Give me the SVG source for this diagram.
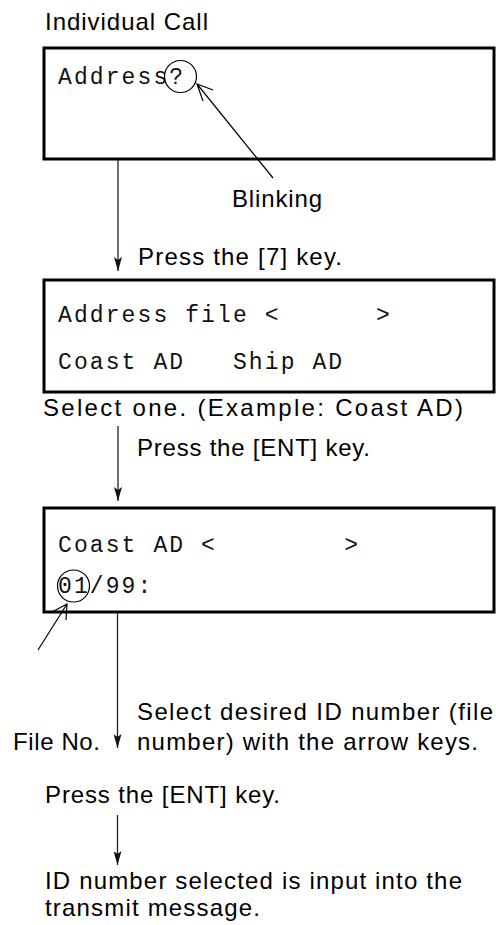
<svg xmlns="http://www.w3.org/2000/svg" width="496" height="925" viewBox="0 0 496 925">
<style>
.box{fill:#fff;stroke:#000;stroke-width:3}
.mono{font-family:"Liberation Mono",monospace;font-size:23px;letter-spacing:2.1px;fill:#111;white-space:pre}
.sans{font-family:"Liberation Sans",Arial,sans-serif;font-size:24px;fill:#000}
.con{stroke:#222;stroke-width:1.3;fill:none}
.thin{stroke:#000;stroke-width:1.2;fill:none}
</style>
<defs>
<marker id="ah" markerUnits="userSpaceOnUse" markerWidth="14" markerHeight="8" viewBox="0 0 14 8" refX="14" refY="4" orient="auto">
<path d="M0,0 L14,4 L0,8 L3,4 Z" fill="#111"/>
</marker>
</defs>
<rect width="496" height="925" fill="#fff"/>
<text class="sans" x="45" y="30" textLength="163">Individual Call</text>
<g id="box1">
<rect class="box" x="44" y="48" width="450" height="111"/>
<text class="mono" x="58" y="84" xml:space="preserve">Address?</text>
<circle class="thin" cx="180.5" cy="76.5" r="16"/>
</g>
<g id="blinking">
<text class="sans" x="232" y="207" textLength="90">Blinking</text>
</g>
<g id="box2">
<rect class="box" x="44" y="280" width="450" height="112"/>
<text class="mono" x="58" y="322" xml:space="preserve">Address file &lt;      &gt;</text>
<text class="mono" x="58" y="369" xml:space="preserve">Coast AD   Ship AD</text>
</g>
<g id="box3">
<rect class="box" x="44" y="508" width="450" height="104"/>
<text class="mono" x="58" y="552" xml:space="preserve">Coast AD &lt;        &gt;</text>
<text class="mono" x="58" y="593" xml:space="preserve">01/99:</text>
<circle class="thin" cx="73.5" cy="586" r="16"/>
</g>
<g id="labels">
<text class="sans" x="138" y="265" textLength="204">Press the [7] key.</text>
<text class="sans" x="43" y="416" textLength="420">Select one. (Example: Coast AD)</text>
<text class="sans" x="137" y="456" textLength="233">Press the [ENT] key.</text>
<text class="sans" x="137" y="720" textLength="356">Select desired ID number (file</text>
<text class="sans" x="137" y="750" textLength="341">number) with the arrow keys.</text>
<text class="sans" x="13" y="750" textLength="87">File No.</text>
<text class="sans" x="45" y="803" textLength="235">Press the [ENT] key.</text>
<text class="sans" x="45" y="889" textLength="417">ID number selected is input into the</text>
<text class="sans" x="45" y="916" textLength="215">transmit message.</text>
</g>
<g id="connectors">
<line class="con" x1="118" y1="160" x2="118" y2="271" marker-end="url(#ah)"/>
<line class="con" x1="118" y1="426" x2="118" y2="501" marker-end="url(#ah)"/>
<line class="con" x1="117.5" y1="613" x2="117.5" y2="748" marker-end="url(#ah)"/>
<line class="con" x1="117.5" y1="815" x2="117.5" y2="865" marker-end="url(#ah)"/>
<path class="thin" d="M273,178 L197,84 M213,90 L197,84 L203,101"/>
<path class="thin" d="M38,650 L67,604 M52,612 L67,604 L66,620"/>
</g>
</svg>
